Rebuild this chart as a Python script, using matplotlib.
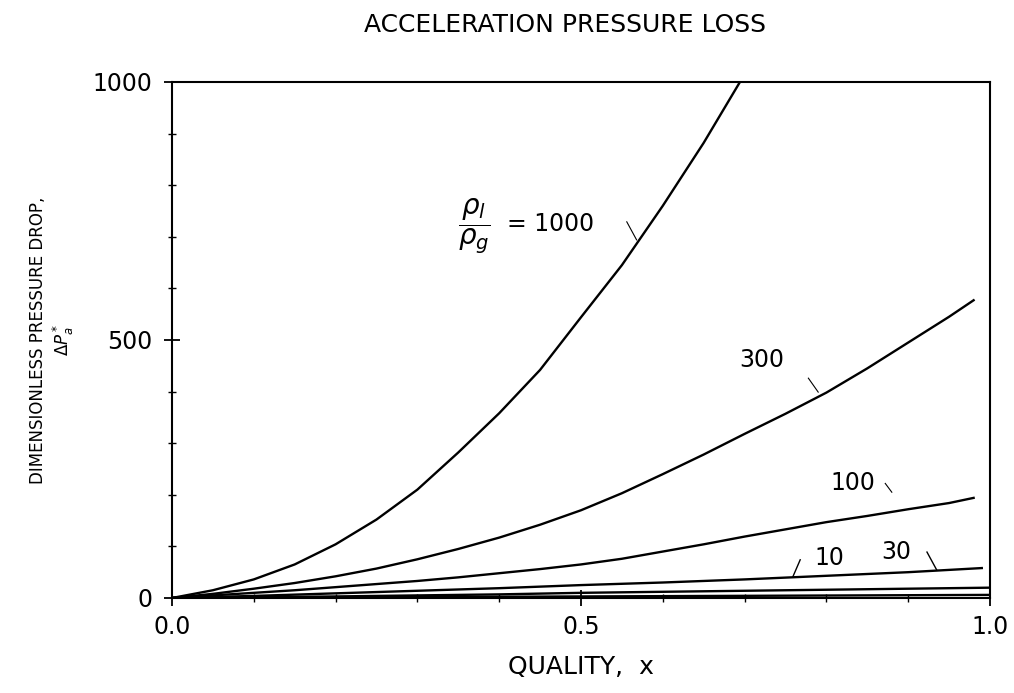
import matplotlib
matplotlib.use("Agg")
import matplotlib.pyplot as plt
from matplotlib.ticker import MultipleLocator

plt.rcParams['font.family'] = ['DejaVu Sans']

# quality x and dimensionless acceleration pressure drop
x_1000 = [0.0, 0.05, 0.1, 0.15, 0.2, 0.25, 0.3, 0.35, 0.4, 0.45, 0.5,
          0.55, 0.6, 0.65, 0.7]
y_1000 = [0, 15, 36, 65, 104, 152, 210, 282, 358, 442, 544,
          645, 760, 882, 1015]

x_300 = [0.0, 0.05, 0.1, 0.15, 0.2, 0.25, 0.3, 0.35, 0.4, 0.45, 0.5,
         0.55, 0.6, 0.65, 0.7, 0.75, 0.8, 0.85, 0.9, 0.95, 0.98]
y_300 = [0, 8, 18, 29, 42, 57, 75, 95, 117, 142, 170,
         203, 240, 278, 318, 357, 398, 445, 495, 545, 577]

x_100 = [0.0, 0.05, 0.1, 0.15, 0.2, 0.25, 0.3, 0.35, 0.4, 0.45, 0.5,
         0.55, 0.6, 0.65, 0.7, 0.75, 0.8, 0.85, 0.9, 0.95, 0.98]
y_100 = [0, 5, 10, 15, 21, 27, 33, 40, 48, 56, 65,
         76, 90, 104, 119, 133, 147, 159, 172, 184, 194]

x_30 = [0.0, 0.1, 0.2, 0.3, 0.4, 0.5, 0.6, 0.7, 0.8, 0.9, 0.99]
y_30 = [0, 4, 9, 14, 19, 25, 30, 36, 43, 50, 58]

x_10 = [0.0, 0.2, 0.4, 0.5, 0.6, 0.8, 1.0]
y_10 = [0, 3, 7, 10, 12, 16, 20]

x_3 = [0.0, 0.5, 1.0]
y_3 = [0, 3, 6]

fig = plt.figure(figsize=(10.14, 6.93), dpi=100)
ax = fig.add_axes([0.1696, 0.1371, 0.8067, 0.7446])

for xs, ys in [(x_1000, y_1000), (x_300, y_300), (x_100, y_100),
               (x_30, y_30), (x_10, y_10), (x_3, y_3)]:
    ax.plot(xs, ys, color='black', lw=1.7)

ax.set_xlim(0, 1)
ax.set_ylim(0, 1000)

ax.set_xticks([0, 0.5, 1.0])
ax.set_xticklabels(['0.0', '0.5', '1.0'])
ax.set_yticks([0, 500, 1000])
ax.set_yticklabels(['0', '500', '1000'])
ax.xaxis.set_minor_locator(MultipleLocator(0.1))
ax.yaxis.set_minor_locator(MultipleLocator(100))
ax.tick_params(which='major', direction='inout', length=12, width=1.3,
               labelsize=17, pad=6)
ax.tick_params(which='minor', direction='inout', length=6, width=1.0)
ax.tick_params(axis='y', which='major', pad=8)

for s in ax.spines.values():
    s.set_linewidth(1.5)

ax.set_title('ACCELERATION PRESSURE LOSS', fontsize=18, pad=36, x=0.48)
ax.set_xlabel('QUALITY,  x', fontsize=18, labelpad=12)
ax.set_ylabel('DIMENSIONLESS PRESSURE DROP,\n' + r'$\Delta P_a^*$',
              fontsize=12, labelpad=12)

# curve labels with pointer strokes
ax.text(0.37, 721, r'$\dfrac{\rho_l}{\rho_g}$', fontsize=20,
        ha='center', va='center')
ax.text(0.41, 724, '= 1000', fontsize=17, ha='left', va='center')
ax.plot([0.556, 0.568], [729, 694], color='black', lw=0.8)

ax.text(0.721, 461, '300', fontsize=17, ha='center', va='center')
ax.plot([0.778, 0.79], [426, 399], color='black', lw=0.8)

ax.text(0.833, 223, '100', fontsize=17, ha='center', va='center')
ax.plot([0.872, 0.88], [222, 205], color='black', lw=0.8)

ax.text(0.804, 78, '10', fontsize=17, ha='center', va='center')
ax.plot([0.768, 0.759], [74, 41], color='black', lw=1.0)

ax.text(0.886, 90, '30', fontsize=17, ha='center', va='center')
ax.plot([0.923, 0.935], [89, 54], color='black', lw=1.0)

fig.savefig('out.png', dpi=100)
